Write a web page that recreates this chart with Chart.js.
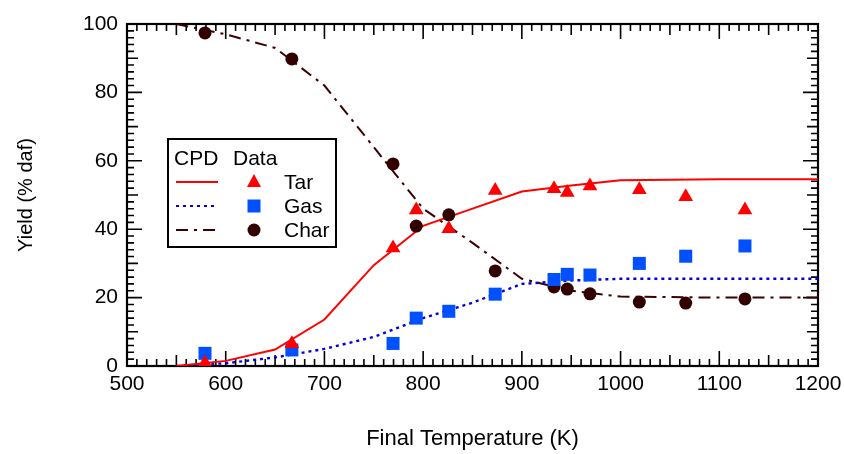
<!DOCTYPE html>
<html>
<head>
<meta charset="utf-8">
<script src="https://cdn.jsdelivr.net/npm/chart.js@4.4.1/dist/chart.umd.min.js"></script>
<style>
  body { margin: 0; background: #fff; }
  canvas { display: block; }
</style>
</head>
<body>
<canvas id="grafico" width="844" height="454"></canvas>
<script>
// CPD model curves
var modeloTemp = [550, 600, 650, 700, 750, 800, 850, 900, 950, 1000, 1100, 1200];
var modeloTar = [0, 1.5, 4.8, 13.6, 29.5, 41, 46, 51, 52.8, 54.3, 54.6, 54.6];
var modeloGas = [0, 0.8, 2.5, 5, 8.5, 14, 18.5, 24, 25, 25.5, 25.5, 25.5];
var modeloChar = [100, 97, 93, 82, 64, 46, 36, 25.5, 22, 20.3, 20, 20];

// experimental data
var dadosTemp = [579, 667, 769.5, 793, 826, 873, 932.6, 946, 969, 1019, 1066, 1126];
var dadosTar = [0.9, 6.5, 34.5, 45.6, 40.1, 51.3, 51.8, 50.7, 52.6, 51.5, 49.5, 45.6];
var dadosGas = [3.7, 4.7, 6.6, 14.0, 16.0, 21.0, 25.3, 26.8, 26.6, 30.0, 32.1, 35.1];
var dadosChar = [97.4, 89.8, 59.1, 40.9, 44.2, 27.8, 23.1, 22.5, 21.1, 18.7, 18.4, 19.6];

var ticksX = [500, 600, 700, 800, 900, 1000, 1100, 1200];
var ticksY = [0, 20, 40, 60, 80, 100];

var fonte = '"Liberation Sans", Arial, sans-serif';

function pontos(xs, ys) {
   return xs.map(function (x, i) { return { x: x, y: ys[i] }; });
}

// frame with inward ticks on all four sides
const molduraTicks = {
   id: 'molduraTicks',
   beforeDatasetsDraw(chart) {
      const { ctx, chartArea: a, scales: { x, y } } = chart;
      ctx.save();
      ctx.strokeStyle = '#000';
      ctx.lineWidth = 1.6;
      ctx.beginPath();
      for (let v = 500; v <= 1200; v += 10) {
         const len = v % 100 === 0 ? 15 : (v % 50 === 0 ? 11 : 7);
         const px = x.getPixelForValue(v);
         ctx.moveTo(px, a.bottom); ctx.lineTo(px, a.bottom - len);
         ctx.moveTo(px, a.top); ctx.lineTo(px, a.top + len);
      }
      for (let v = 0; v <= 100; v += 2) {
         const len = v % 20 === 0 ? 15 : (v % 10 === 0 ? 11 : 7);
         const py = y.getPixelForValue(v);
         ctx.moveTo(a.left, py); ctx.lineTo(a.left + len, py);
         ctx.moveTo(a.right, py); ctx.lineTo(a.right - len, py);
      }
      ctx.stroke();
      ctx.lineWidth = 2.2;
      ctx.strokeRect(a.left, a.top, a.right - a.left, a.bottom - a.top);
      ctx.restore();
   }
};

// legend box "CPD  Data"
const legenda = {
   id: 'legenda',
   afterDraw(chart) {
      const ctx = chart.ctx;
      ctx.save();
      ctx.fillStyle = '#fff';
      ctx.fillRect(168, 139, 168, 108);
      ctx.strokeStyle = '#000';
      ctx.lineWidth = 2;
      ctx.strokeRect(168, 139, 168, 108);
      ctx.fillStyle = '#000';
      ctx.font = '21px ' + fonte;
      ctx.textBaseline = 'alphabetic';
      ctx.fillText('CPD', 174, 165);
      ctx.fillText('Data', 233, 165);

      const linhas = [
         { nome: 'Tar', cor: '#ff0000', dash: [], marca: 'triangle', corMarca: '#ff0000' },
         { nome: 'Gas', cor: '#0000e0', dash: [3, 4], marca: 'rect', corMarca: '#0050ff' },
         { nome: 'Char', cor: '#3c0000', dash: [12, 6, 3, 6], marca: 'circle', corMarca: '#330000' }
      ];
      linhas.forEach(function (l, i) {
         const cy = 182 + i * 24;
         ctx.strokeStyle = l.cor;
         ctx.lineWidth = 2;
         ctx.setLineDash(l.dash);
         ctx.beginPath();
         ctx.moveTo(176, cy); ctx.lineTo(218, cy);
         ctx.stroke();
         ctx.setLineDash([]);
         ctx.fillStyle = l.corMarca;
         ctx.beginPath();
         if (l.marca === 'triangle') {
            ctx.moveTo(254, cy - 8); ctx.lineTo(261, cy + 5); ctx.lineTo(247, cy + 5);
            ctx.closePath();
         } else if (l.marca === 'rect') {
            ctx.rect(247.5, cy - 6.5, 13, 13);
         } else {
            ctx.arc(254, cy, 6.5, 0, Math.PI * 2);
         }
         ctx.fill();
         ctx.fillStyle = '#000';
         ctx.fillText(l.nome, 284, cy + 7);
      });
      ctx.restore();
   }
};

const ctxGrafico = document.getElementById('grafico');
new Chart(ctxGrafico, {
   type: 'scatter',
   data: {
      datasets: [
         {
            label: 'Tar data',
            data: pontos(dadosTemp, dadosTar),
            pointStyle: 'triangle',
            pointRadius: 8.5,
            backgroundColor: '#ff0000',
            borderWidth: 0,
            showLine: false
         },
         {
            label: 'Gas data',
            data: pontos(dadosTemp, dadosGas),
            pointStyle: 'rect',
            pointRadius: 9.2,
            backgroundColor: '#0050ff',
            borderWidth: 0,
            showLine: false
         },
         {
            label: 'Char data',
            data: pontos(dadosTemp, dadosChar),
            pointStyle: 'circle',
            pointRadius: 6.5,
            backgroundColor: '#330000',
            borderWidth: 0,
            showLine: false
         },
         {
            label: 'CPD Tar',
            data: pontos(modeloTemp, modeloTar),
            showLine: true,
            pointRadius: 0,
            borderColor: '#ff0000',
            borderWidth: 2,
            tension: 0
         },
         {
            label: 'CPD Gas',
            data: pontos(modeloTemp, modeloGas),
            showLine: true,
            pointRadius: 0,
            borderColor: '#0000e0',
            borderWidth: 2.4,
            borderDash: [3, 4],
            tension: 0
         },
         {
            label: 'CPD Char',
            data: pontos(modeloTemp, modeloChar),
            showLine: true,
            pointRadius: 0,
            borderColor: '#3c0000',
            borderWidth: 2,
            borderDash: [12, 6, 3, 6],
            tension: 0
         }
      ]
   },
   options: {
      responsive: false,
      animation: false,
      devicePixelRatio: 1,
      layout: {
         padding: { left: 0, right: 26, top: 24, bottom: 0 }
      },
      plugins: {
         legend: { display: false },
         tooltip: { enabled: false }
      },
      scales: {
         x: {
            type: 'linear',
            min: 500,
            max: 1200,
            afterBuildTicks: function (scale) {
               scale.ticks = ticksX.map(function (v) { return { value: v }; });
            },
            afterFit: function (scale) {
               scale.height = 88;
               scale.paddingLeft = 0;
               scale.paddingRight = 0;
            },
            grid: { display: false, drawTicks: false },
            border: { display: false },
            ticks: {
               padding: 6,
               color: '#000',
               maxRotation: 0,
               font: { size: 21, family: fonte },
               callback: function (v) { return String(v); }
            },
            title: {
               display: true,
               text: 'Final Temperature (K)',
               color: '#000',
               padding: 2,
               font: { size: 22, family: fonte }
            }
         },
         y: {
            type: 'linear',
            min: 0,
            max: 100,
            afterBuildTicks: function (scale) {
               scale.ticks = ticksY.map(function (v) { return { value: v }; });
            },
            afterFit: function (scale) { scale.width = 127; },
            grid: { display: false, drawTicks: false },
            border: { display: false },
            ticks: {
               padding: 9,
               color: '#000',
               font: { size: 21, family: fonte },
               callback: function (v) { return String(v); }
            },
            title: {
               display: true,
               text: 'Yield (% daf)',
               color: '#000',
               padding: 14,
               font: { size: 20, family: fonte }
            }
         }
      }
   },
   plugins: [molduraTicks, legenda]
});
</script>
</body>
</html>
